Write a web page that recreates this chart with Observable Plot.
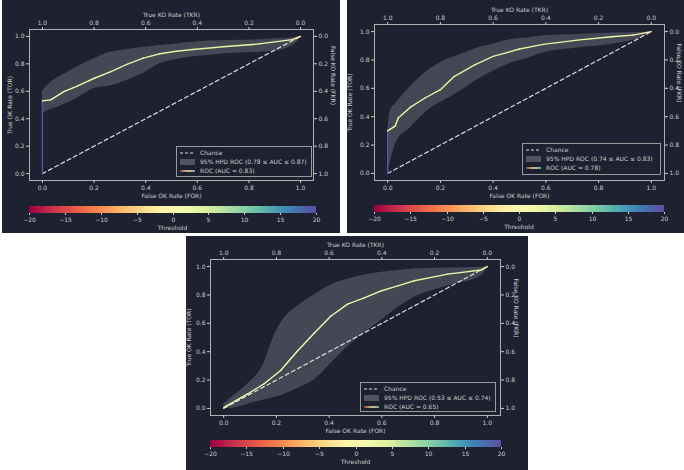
<!DOCTYPE html>
<html>
<head>
<meta charset="utf-8">
<script src="https://cdn.jsdelivr.net/npm/d3@7"></script>
<script src="https://cdn.jsdelivr.net/npm/@observablehq/plot@0.6"></script>
<style>
  body { margin:0; background:#ffffff; width:684px; height:470px; position:relative; overflow:hidden; font-family:"DejaVu Sans", sans-serif; }
  .panel { position:absolute; background:#1e2130; overflow:hidden; }
  .thr { position:absolute; color:#cccccc; font-size:6px; text-align:center; }
  .leg { position:absolute; border:1px solid #9a9a9a; background:rgba(30,33,48,0.85); box-sizing:border-box; color:#cccccc; font-size:6px; padding:1px 3px; }
  .leg .row { height:9px; display:flex; align-items:center; white-space:nowrap; }
  .leg svg { margin-right:5px; flex:none; }
</style>
</head>
<body>
<script>
// ---------- data ----------
const axisTicks = [0, 0.2, 0.4, 0.6, 0.8, 1.0];
const cbTicks = [-20, -15, -10, -5, 0, 5, 10, 15, 20];
const chanceX = [0, 1];
const chanceY = [0, 1];

const panelAUC = [0.83, 0.78, 0.65];
const hpdLo = [0.78, 0.74, 0.53];
const hpdHi = [0.87, 0.83, 0.74];

// Panel 1 ROC
const fpr1 = [0, 0, 0.032, 0.083, 0.135, 0.199, 0.263, 0.327, 0.391, 0.455, 0.519, 0.583, 0.712, 0.84, 0.968, 1];
const tpr1 = [0, 0.53, 0.537, 0.597, 0.638, 0.693, 0.741, 0.796, 0.842, 0.873, 0.892, 0.904, 0.926, 0.945, 0.976, 1];
const thr1 = [20, 1, 1, 2, 3, 3, 4, 4, 4, 4, 4, 4, 3, 2, -2, -6];
const bandX1 = [0, 0.03, 0.08, 0.135, 0.2, 0.26, 0.33, 0.39, 0.455, 0.52, 0.58, 0.71, 0.84, 0.9, 0.97, 1];
const bandHi1 = [0.60, 0.66, 0.72, 0.777, 0.837, 0.883, 0.905, 0.918, 0.933, 0.945, 0.957, 0.969, 0.975, 0.982, 0.99, 1];
const bandLo1 = [0.44, 0.465, 0.50, 0.55, 0.62, 0.638, 0.681, 0.73, 0.80, 0.832, 0.849, 0.873, 0.885, 0.892, 0.933, 0.99];

// Panel 2 ROC
const fpr2 = [0, 0, 0.028, 0.04, 0.085, 0.14, 0.2, 0.25, 0.33, 0.4, 0.5, 0.59, 0.72, 0.85, 0.93, 1];
const tpr2 = [0, 0.30, 0.333, 0.39, 0.465, 0.53, 0.59, 0.68, 0.765, 0.825, 0.877, 0.91, 0.94, 0.964, 0.975, 1];
const thr2 = [20, 2, 2, 2, 3, 3, 3, 4, 4, 4, 4, 3, 3, 2, -2, -6];
const bandX2 = [0, 0.01, 0.034, 0.085, 0.15, 0.21, 0.28, 0.34, 0.4, 0.47, 0.53, 0.59, 0.72, 0.85, 0.975, 1];
const bandHi2 = [0.30, 0.44, 0.50, 0.61, 0.72, 0.79, 0.84, 0.885, 0.91, 0.945, 0.955, 0.97, 0.98, 0.99, 0.995, 1];
const bandLo2 = [0.0, 0.08, 0.225, 0.32, 0.44, 0.51, 0.585, 0.66, 0.72, 0.78, 0.81, 0.85, 0.885, 0.91, 0.97, 1];

// Panel 3 ROC
const fpr3 = [0, 0.089, 0.152, 0.216, 0.279, 0.343, 0.406, 0.47, 0.533, 0.596, 0.66, 0.723, 0.85, 0.977, 1];
const tpr3 = [0.005, 0.1, 0.172, 0.267, 0.403, 0.53, 0.65, 0.735, 0.78, 0.828, 0.864, 0.9, 0.947, 0.976, 1];
const thr3 = [1, 1, 1, 1, 1, 2, 2, 3, 3, 4, 4, 4, 3, -2, -6];
const bandX3 = [0, 0.025, 0.09, 0.152, 0.19, 0.216, 0.28, 0.343, 0.406, 0.47, 0.533, 0.6, 0.66, 0.72, 0.85, 0.977, 1];
const bandHi3 = [0.03, 0.07, 0.17, 0.315, 0.506, 0.6, 0.72, 0.80, 0.87, 0.91, 0.94, 0.96, 0.972, 0.983, 0.99, 0.995, 1];
const bandLo3 = [0, 0, 0.03, 0.06, 0.075, 0.09, 0.14, 0.2, 0.315, 0.434, 0.53, 0.625, 0.71, 0.78, 0.864, 0.935, 1];

// ---------- layout ----------
const panels = [
  {left:2, top:0, w:338, h:233, mL:27, mR:27, mT:29, fB:180, cbTop:206, cbL:27, cbR:24, leg:[174,146,136,31],
   fpr:fpr1, tpr:tpr1, thr:thr1, bx:bandX1, bhi:bandHi1, blo:bandLo1, lOff:22, rDx:19.5},
  {left:347, top:0, w:337, h:233, mL:27, mR:20, mT:24, fB:180, cbTop:205, cbL:27, cbR:20, leg:[175,143,139,32],
   fpr:fpr2, tpr:tpr2, thr:thr2, bx:bandX2, bhi:bandHi2, blo:bandLo2, lOff:27, rDx:14.5},
  {left:186, top:236, w:342, h:234, mL:24, mR:28, mT:23, fB:179, cbTop:204, cbL:24, cbR:27, leg:[174,146,136,30],
   fpr:fpr3, tpr:tpr3, thr:thr3, bx:bandX3, bhi:bandHi3, blo:bandLo3, lOff:24, rDx:15.5}
];

const txt = "#cccccc";
const font = {fontFamily:"DejaVu Sans", fontSize:"6px"};
const H = 204;

panels.forEach((p, k) => {
  const div = document.createElement("div");
  div.className = "panel";
  Object.assign(div.style, {left:p.left+"px", top:p.top+"px", width:p.w+"px", height:p.h+"px"});
  document.body.appendChild(div);

  const segs = d3.pairs(p.fpr.map((x, i) => ({x, y:p.tpr[i], t:p.thr[i]})))
    .map(([a, b]) => ({x1:a.x, y1:a.y, x2:b.x, y2:b.y, t:a.t}));
  const band = p.bx.map((x, i) => ({x, lo:p.blo[i], hi:p.bhi[i]}));
  const chance = chanceX.map((x, i) => ({x, y:chanceY[i]}));
  const f1 = d3.format(".1f");
  const inv = d => f1(1 - d);

  const chart = Plot.plot({
    width:p.w, height:H,
    marginLeft:p.mL, marginRight:p.mR, marginTop:p.mT, marginBottom:H - p.fB,
    style:{background:"transparent", color:txt, overflow:"visible", ...font},
    x:{domain:[-0.05, 1.05]},
    y:{domain:[-0.05, 1.05]},
    color:{type:"linear", scheme:"spectral", domain:[-20, 20]},
    marks:[
      Plot.areaY(band, {x:"x", y1:"lo", y2:"hi", fill:"#a0a0a8", fillOpacity:0.3, curve:"monotone-x"}),
      Plot.line(chance, {x:"x", y:"y", stroke:"#dddddd", strokeWidth:1.2, strokeDasharray:"4,3"}),
      Plot.link(segs, {x1:"x1", y1:"y1", x2:"x2", y2:"y2", stroke:"t", strokeWidth:1.4, strokeLinecap:"round"}),
      Plot.frame({stroke:"#b0b0b0", strokeWidth:1}),
      Plot.axisX({ticks:axisTicks, anchor:"bottom", tickSize:3, tickPadding:2, tickFormat:f1,
        label:"False OK Rate (FOR)", labelAnchor:"center", labelOffset:17, labelArrow:false}),
      Plot.axisX({ticks:axisTicks, anchor:"top", tickSize:3, tickPadding:2, tickFormat:inv,
        label:"True KO Rate (TKR)", labelAnchor:"center", labelOffset:17, labelArrow:false}),
      Plot.axisY({ticks:axisTicks, anchor:"left", tickSize:3, tickPadding:2, tickFormat:f1,
        label:"True OK Rate (TOR)", labelAnchor:"center", labelOffset:p.lOff, labelArrow:false}),
      Plot.axisY({ticks:axisTicks, anchor:"right", tickSize:3, tickPadding:2, tickFormat:inv, label:null}),
      Plot.text(["False KO Rate (FKR)"], {text:d => d, frameAnchor:"right", rotate:90, dx:p.rDx, fill:txt, fontSize:6})
    ]
  });
  chart.style.position = "absolute";
  chart.style.left = "0px";
  chart.style.top = "0px";
  div.appendChild(chart);

  // colorbar
  const cb = Plot.legend({
    color:{type:"linear", scheme:"spectral", domain:[-20, 20]},
    legend:"ramp", label:null, width:p.w, height:19, marginTop:0, marginBottom:12,
    marginLeft:p.cbL, marginRight:p.cbR, ticks:cbTicks, tickSize:2, tickFormat:d3.format("d"),
    style:{background:"transparent", color:txt, ...font}
  });
  cb.querySelectorAll(".tick line").forEach(l => l.setAttribute("y1", 0));
  cb.style.position = "absolute";
  cb.style.left = "0px";
  cb.style.top = p.cbTop + "px";
  div.appendChild(cb);

  const th = document.createElement("div");
  th.className = "thr";
  th.textContent = "Threshold";
  Object.assign(th.style, {left:p.cbL+"px", width:(p.w - p.cbL - p.cbR)+"px", top:(p.cbTop + 18)+"px"});
  div.appendChild(th);

  // legend
  const leg = document.createElement("div");
  leg.className = "leg";
  Object.assign(leg.style, {left:p.leg[0]+"px", top:p.leg[1]+"px", width:p.leg[2]+"px", height:p.leg[3]+"px"});
  leg.innerHTML = `
    <div class="row"><svg width="15" height="6"><line x1="0" y1="3" x2="15" y2="3" stroke="#dddddd" stroke-width="1.2" stroke-dasharray="3,2"/></svg><span>Chance</span></div>
    <div class="row"><svg width="15" height="6"><rect x="0" y="0" width="15" height="6" fill="#a0a0a8" fill-opacity="0.4"/></svg><span>95% HPD ROC (${hpdLo[k].toFixed(2)} ≤ AUC ≤ ${hpdHi[k].toFixed(2)})</span></div>
    <div class="row"><svg width="15" height="6"><defs><linearGradient id="g${k}"><stop offset="0" stop-color="#d53e4f"/><stop offset="0.35" stop-color="#fee08b"/><stop offset="0.6" stop-color="#ffffbf"/><stop offset="1" stop-color="#abdda4"/></linearGradient></defs><rect x="0" y="2.3" width="15" height="1.4" fill="url(#g${k})"/></svg><span>ROC (AUC = ${panelAUC[k].toFixed(2)})</span></div>`;
  div.appendChild(leg);
});
</script>
</body>
</html>
